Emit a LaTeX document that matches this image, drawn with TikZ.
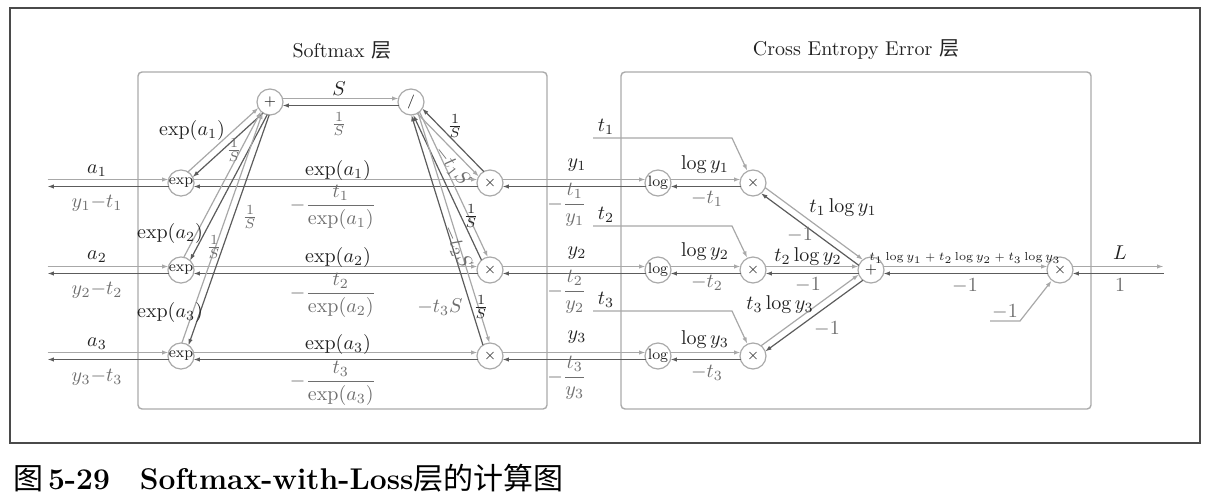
\documentclass[tikz,border=0pt]{standalone}
\usepackage{amsmath}
\usepackage{fontspec}
\newfontfamily\cjk{Noto Sans CJK SC}
\usetikzlibrary{calc,arrows.meta}
\definecolor{ink}{HTML}{222222}
\definecolor{muted}{HTML}{6E6E6E}
\definecolor{fwline}{HTML}{A8A8A8}
\definecolor{bwline}{HTML}{5C5C5C}
\definecolor{rule}{HTML}{AAAAAA}
\definecolor{frame}{HTML}{4A4A4A}

\begin{document}
\begin{tikzpicture}[
  x=0.5pt, y=-0.5pt,
  op/.style    = {circle, draw=rule, line width=0.6pt, minimum size=13pt, inner sep=0pt,
                  font=\fontsize{7.5}{9}\selectfont, text=ink},
  lane/.style  = {shorten <=6.25pt, shorten >=6.25pt,
                  to path={($(\tikztostart)!1.75pt!90:(\tikztotarget)$) --
                           ($(\tikztotarget)!1.75pt!-90:(\tikztostart)$) \tikztonodes}},
  rlane/.style = {to path={($(\tikztostart)!1.75pt!-90:(\tikztotarget)$) --
                           ($(\tikztotarget)!1.75pt!90:(\tikztostart)$) \tikztonodes}},
  tip/.style   = {-{Latex[length=3.2pt,width=2.2pt]}},
  fw/.style    = {lane, tip, draw=fwline, line width=0.6pt},
  bw/.style    = {lane, tip, draw=bwline, line width=0.6pt},
  feed/.style  = {tip, draw=fwline, line width=0.6pt},
  val/.style   = {text=ink},
  grad/.style  = {text=muted},
  layer/.style = {draw=rule, line width=0.7pt, rounded corners=2pt},
]
\useasboundingbox (0,0) rectangle (1210,503);

% ---------- frame and layers ----------
\draw[draw=frame, line width=1pt] (10,8) rectangle (1200,443);
\draw[layer] (138,72) rectangle (547,409);
\draw[layer] (621,72) rectangle (1091,409);
\node[text=ink] (smtitle) at (342,50) {Softmax {\cjk 层}};
\node[text=ink] (cetitle) at (856,50) {Cross Entropy Error {\cjk 层}};

% ---------- softmax nodes ----------
\node[op] (exp1) at (181,183) {exp};
\node[op] (exp2) at (181,270) {exp};
\node[op] (exp3) at (181,356) {exp};
\node[op] (plus) at (270,102) {$+$};
\node[op] (div)  at (411,102) {$/$};
\node[op] (mul1) at (490,183) {$\times$};
\node[op] (mul2) at (490,270) {$\times$};
\node[op] (mul3) at (490,356) {$\times$};

% ---------- cross entropy nodes ----------
\node[op] (log1) at (658,183) {log};
\node[op] (log2) at (658,270) {log};
\node[op] (log3) at (658,356) {log};
\node[op] (xt1)  at (753,183) {$\times$};
\node[op] (xt2)  at (753,270) {$\times$};
\node[op] (xt3)  at (753,356) {$\times$};
\node[op] (sum)  at (871,270) {$+$};
\node[op] (xl)   at (1060,270) {$\times$};

% ---------- free ends ----------
\coordinate (in1) at (35,183);
\coordinate (in2) at (35,270);
\coordinate (in3) at (35,356);
\coordinate (out) at (1176,270);
\coordinate (t1a) at (593,138);  \coordinate (t1b) at (732,138);
\coordinate (t2a) at (593,226);  \coordinate (t2b) at (732,226);
\coordinate (t3a) at (593,311);  \coordinate (t3b) at (732,311);
\coordinate (m1a) at (990,321);  \coordinate (m1b) at (1020,321);

% ---------- connectors ----------
\draw[fw] (in1) to (exp1);  \draw[bw] (exp1) to (in1);
\draw[fw] (in2) to (exp2);  \draw[bw] (exp2) to (in2);
\draw[fw] (in3) to (exp3);  \draw[bw] (exp3) to (in3);

\draw[fw] (exp1) to (mul1); \draw[bw] (mul1) to (exp1);
\draw[fw] (exp2) to (mul2); \draw[bw] (mul2) to (exp2);
\draw[fw] (exp3) to (mul3); \draw[bw] (mul3) to (exp3);

\draw[fw] (exp1) to (plus); \draw[bw] (plus) to (exp1);
\draw[fw] (exp2) to (plus); \draw[bw] (plus) to (exp2);
\draw[fw] (exp3) to (plus); \draw[bw] (plus) to (exp3);

\draw[fw] (plus) to (div);  \draw[bw] (div) to (plus);

\draw[fw, rlane] (div) to (mul1); \draw[bw, rlane] (mul1) to (div);
\draw[fw] (div) to (mul2);  \draw[bw] (mul2) to (div);
\draw[fw] (div) to (mul3);  \draw[bw] (mul3) to (div);

\draw[fw] (mul1) to (log1); \draw[bw] (log1) to (mul1);
\draw[fw] (mul2) to (log2); \draw[bw] (log2) to (mul2);
\draw[fw] (mul3) to (log3); \draw[bw] (log3) to (mul3);

\draw[fw] (log1) to (xt1);  \draw[bw] (xt1) to (log1);
\draw[fw] (log2) to (xt2);  \draw[bw] (xt2) to (log2);
\draw[fw] (log3) to (xt3);  \draw[bw] (xt3) to (log3);

\draw[feed] (t1a) -- (t1b) -- (xt1);
\draw[feed] (t2a) -- (t2b) -- (xt2);
\draw[feed] (t3a) -- (t3b) -- (xt3);

\draw[fw] (xt1) to (sum);   \draw[bw] (sum) to (xt1);
\draw[fw] (xt2) to (sum);   \draw[bw] (sum) to (xt2);
\draw[fw] (xt3) to (sum);   \draw[bw] (sum) to (xt3);

\draw[fw] (sum) to (xl);    \draw[bw] (xl) to (sum);
\draw[feed] (m1a) -- (m1b) -- (xl);
\draw[fw] (xl) to (out);    \draw[bw] (out) to (xl);

% ---------- softmax labels ----------
\node[val]  (ina1) at (97,171) {$a_1$};
\node[grad] (ind1) at (97,203) {$y_1{-}t_1$};
\node[val]  (ina2) at (97,257) {$a_2$};
\node[grad] (ind2) at (97,290) {$y_2{-}t_2$};
\node[val]  (ina3) at (97,344) {$a_3$};
\node[grad] (ind3) at (97,377) {$y_3{-}t_3$};

\node[val]  (ve1) at (338,170) {$\exp(a_1)$};
\node[grad] (ge1) at (333,207) {$-\dfrac{t_1}{\exp(a_1)}$};
\node[val]  (ve2) at (338,257) {$\exp(a_2)$};
\node[grad] (ge2) at (333,295) {$-\dfrac{t_2}{\exp(a_2)}$};
\node[val]  (ve3) at (338,344) {$\exp(a_3)$};
\node[grad] (ge3) at (333,383) {$-\dfrac{t_3}{\exp(a_3)}$};

\node[val]  (vp1) at (192,130) {$\exp(a_1)$};
\node[grad] (gp1) at (234,150) {$\frac{1}{S}$};
\node[val]  (vp2) at (170,233) {$\exp(a_2)$};
\node[grad] (gp2) at (214,247) {$\frac{1}{S}$};
\node[val]  (vp3) at (170,312) {$\exp(a_3)$};
\node[grad] (gp3) at (250,217) {$\frac{1}{S}$};

\node[val]  (vs) at (339,89)  {$S$};
\node[grad] (gs) at (339,124) {$\frac{1}{S}$};

\node[val]  (vd1) at (455,126) {$\frac{1}{S}$};
\node[grad, rotate=-52] (gd1) at (452,166) {$-t_1S$};
\node[val]  (vd2) at (471,216) {$\frac{1}{S}$};
\node[grad, rotate=-66] (gd2) at (457,247) {$-t_2S$};
\node[val]  (vd3) at (481,307) {$\frac{1}{S}$};
\node[grad] (gd3) at (440,307) {$-t_3S$};

% ---------- cross entropy labels ----------
\node[val]  (vy1) at (577,165) {$y_1$};
\node[grad] (gy1) at (567,205) {$-\dfrac{t_1}{y_1}$};
\node[val]  (vy2) at (577,253) {$y_2$};
\node[grad] (gy2) at (567,292) {$-\dfrac{t_2}{y_2}$};
\node[val]  (vy3) at (577,337) {$y_3$};
\node[grad] (gy3) at (567,378) {$-\dfrac{t_3}{y_3}$};

\node[val] (vt1) at (606,127) {$t_1$};
\node[val] (vt2) at (606,215) {$t_2$};
\node[val] (vt3) at (606,300) {$t_3$};

\node[val]  (vl1) at (705,165) {$\log y_1$};
\node[grad] (gl1) at (707,199) {$-t_1$};
\node[val]  (vl2) at (705,252) {$\log y_2$};
\node[grad] (gl2) at (707,283) {$-t_2$};
\node[val]  (vl3) at (705,340) {$\log y_3$};
\node[grad] (gl3) at (707,373) {$-t_3$};

\node[val]  (vc1) at (843,208) {$t_1\log y_1$};
\node[grad] (gc1) at (800,235) {$-1$};
\node[val]  (vc2) at (808,257) {$t_2\log y_2$};
\node[grad] (gc2) at (808,285) {$-1$};
\node[val]  (vc3) at (780,305) {$t_3\log y_3$};
\node[grad] (gc3) at (827,329) {$-1$};

\node[val, font=\fontsize{5.8}{7}\selectfont, inner sep=1pt] (vsum) at (965,258)
  {$t_1\log y_1\mathbin{\scriptscriptstyle+}t_2\log y_2\mathbin{\scriptscriptstyle+}t_3\log y_3$};
\node[grad] (gsum) at (965,286) {$-1$};
\node[val]  (vL) at (1120,253) {$L$};
\node[grad] (gL) at (1120,285) {$1$};
\node[grad] (vm) at (1005,312) {$-1$};

% ---------- caption ----------
\node[anchor=west, font=\fontsize{15}{18}\selectfont, text=black] (cap) at (6,478)
  {{\cjk 图}\,\textbf{5-29}\quad\textbf{Softmax-with-Loss}{\cjk 层的计算图}};

\end{tikzpicture}
\end{document}
